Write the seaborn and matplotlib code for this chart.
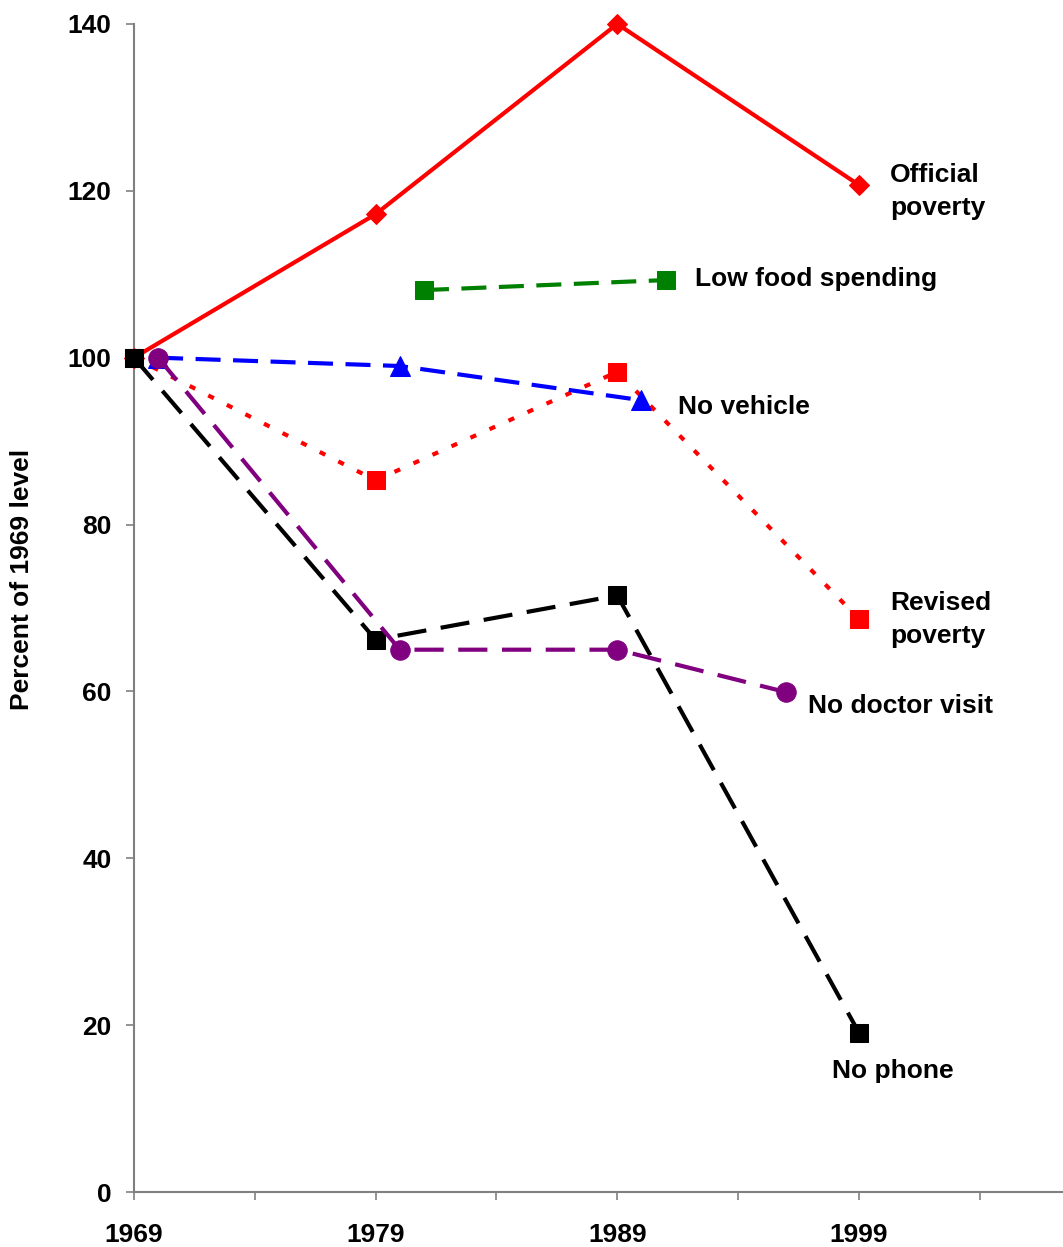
import matplotlib
matplotlib.use("Agg")
import matplotlib.pyplot as plt
import seaborn as sns

# values (percent of 1969 level)
official_years = [1969, 1979, 1989, 1999]
official_vals = [100, 117.2, 140, 120.7]

revised_years = [1969, 1979, 1989, 1999]
revised_vals = [100, 85.3, 98.3, 68.7]

food_years = [1981, 1991]
food_vals = [108.1, 109.3]

vehicle_years = [1970, 1980, 1990]
vehicle_vals = [100, 99.0, 94.9]

doctor_years = [1970, 1980, 1989, 1996]
doctor_vals = [100, 65.0, 65.0, 59.9]

phone_years = [1969, 1979, 1989, 1999]
phone_vals = [100, 66.2, 71.5, 19.1]

sns.set_style("ticks", {"text.color": "black", "xtick.color": "black",
                        "ytick.color": "black", "axes.labelcolor": "black"})
plt.rcParams["font.family"] = ["Liberation Sans", "DejaVu Sans"]
plt.rcParams["font.weight"] = "bold"

fig = plt.figure(figsize=(10.63, 12.47), dpi=100)
ax = fig.add_axes([0.126, 0.0441, 0.873, 0.9367])

def draw(x, y, color, marker, ms, dashes, z):
    sns.lineplot(x=x, y=y, color=color, marker=marker, markersize=ms,
                 markeredgecolor=color, linewidth=3, ax=ax, zorder=z)
    line = ax.lines[-1]
    if dashes is not None:
        line.set_dashes(dashes)
    line.set_clip_on(False)

draw(official_years, official_vals, "#ff0000", "D", 10, None, 3)
draw(revised_years, revised_vals, "#ff0000", "s", 13.5, (1.5, 3.5), 3)
draw(vehicle_years, vehicle_vals, "#0000ff", "^", 14, (6, 3), 4)
draw(food_years, food_vals, "#008000", "s", 13.5, (6, 3), 4)
draw(phone_years, phone_vals, "#000000", "s", 13.5, (7, 3.5), 5)
draw(doctor_years, doctor_vals, "#800080", "o", 14, (7, 3.5), 6)

labels = [
    (2000.3, 119.9, "Official\npoverty"),
    (1992.2, 109.4, "Low food spending"),
    (1991.5, 94.1, "No vehicle"),
    (2000.3, 68.6, "Revised\npoverty"),
    (1996.9, 58.3, "No doctor visit"),
    (1997.9, 14.5, "No phone"),
]
for x, y, t in labels:
    ax.text(x, y, t, fontsize=19, fontweight="bold", ha="left", va="center",
            linespacing=1.45, color="black")

ax.set_xlim(1969, 2007.4)
ax.set_ylim(0, 140)
ax.set_yticks(range(0, 141, 20))
xt = list(range(1969, 2008, 5))
ax.set_xticks(xt)
ax.set_xticklabels([str(v) if (v - 1969) % 10 == 0 else "" for v in xt])

for side in ["top", "right"]:
    ax.spines[side].set_visible(False)
for side in ["left", "bottom"]:
    ax.spines[side].set_color("#808080")
    ax.spines[side].set_linewidth(1.5)

ax.tick_params(axis="both", which="major", direction="out", length=6,
               width=1.2, color="#808080", labelcolor="black", labelsize=19,
               bottom=True, left=True)
ax.tick_params(axis="x", pad=16)
ax.tick_params(axis="y", pad=10)
for lab in ax.get_xticklabels() + ax.get_yticklabels():
    lab.set_fontweight("bold")

ax.set_xlabel("")
ax.set_ylabel("")
fig.text(0.021, 0.535, "Percent of 1969 level", rotation=90, fontsize=19,
         fontweight="bold", ha="center", va="center", color="black")

fig.savefig("out.png", dpi=100)
